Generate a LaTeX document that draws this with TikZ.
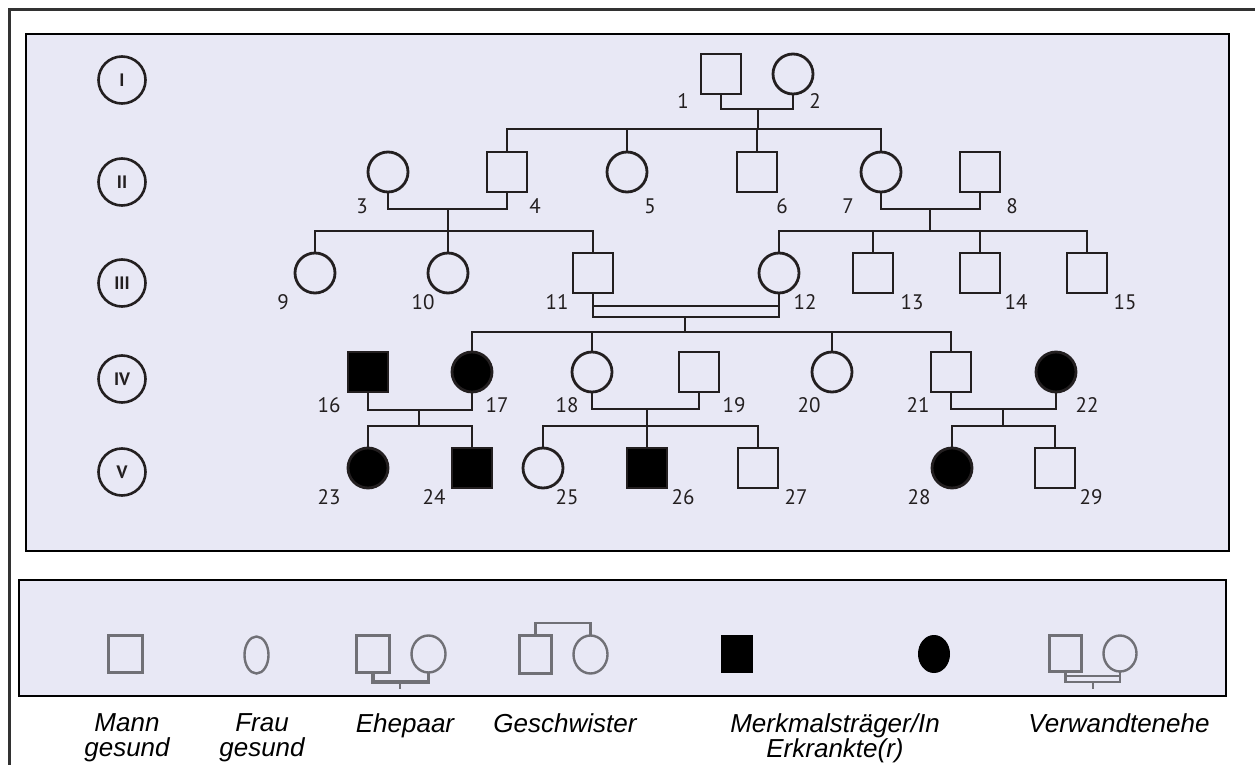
\documentclass[tikz,border=0pt]{standalone}
\usepackage{fontspec}
\setmainfont{Liberation Sans}
\newfontfamily\numfont{PT Sans}
\usetikzlibrary{shapes.geometric}
\definecolor{boxfill}{RGB}{232,232,245}
\definecolor{ink}{RGB}{35,31,32}
\definecolor{frame}{RGB}{50,50,50}
\definecolor{leggray}{RGB}{112,112,118}
\begin{document}
\begin{tikzpicture}[x=1pt,y=-1pt,
  ped/.style={draw=ink, line width=2.8pt},
  msq/.style={rectangle, draw=ink, line width=2.8pt, minimum size=40pt, inner sep=0pt, outer sep=0pt, fill=boxfill},
  fci/.style={circle, draw=ink, line width=2.8pt, minimum size=40pt, inner sep=0pt, outer sep=0pt, fill=boxfill},
  aff/.style={fill=black},
  num/.style={font=\numfont\fontsize{21}{21}\selectfont, text=ink, inner sep=0pt},
  gen/.style={circle, draw=ink, line width=2.6pt, minimum size=47pt, inner sep=0pt, text=ink, font=\numfont\bfseries\fontsize{18}{18}\selectfont},
  leg/.style={draw=leggray, line width=2.6pt},
  lsq/.style={rectangle, draw=leggray, line width=2.6pt, inner sep=0pt, outer sep=0pt},
  lci/.style={ellipse, draw=leggray, line width=2.4pt, inner sep=0pt, outer sep=0pt},
  legtxt/.style={font=\itshape\fontsize{26}{25}\selectfont, align=center, anchor=north, inner sep=0pt, text=black}
]
\useasboundingbox (0,0) rectangle (1255,765);
\clip (0,0) rectangle (1255,765);
\fill[white] (0,0) rectangle (1255,765);
% frames
\draw[draw=frame, line width=3pt] (9,780) -- (9,10) -- (1270,10);
\draw[fill=boxfill, draw=black, line width=2.4pt] (26,34) rectangle (1229,551);
\draw[fill=boxfill, draw=black, line width=2.4pt] (19,580) rectangle (1226,696);

% generation labels
\node[gen] (gI) at (122,80) {I};
\node[gen] (gII) at (122,182) {II};
\node[gen] (gIII) at (122,283) {III};
\node[gen] (gIV) at (122,379) {IV};
\node[gen] (gV) at (122,472) {V};

% generation I
\node[msq] (p1) at (721,74) {};
\node[fci] (p2) at (793,74) {};
% generation II
\node[fci] (p3) at (388,172) {};
\node[msq] (p4) at (507,172) {};
\node[fci] (p5) at (627,172) {};
\node[msq] (p6) at (757,172) {};
\node[fci] (p7) at (881,172) {};
\node[msq] (p8) at (980,172) {};
% generation III
\node[fci] (p9) at (315,273) {};
\node[fci] (p10) at (448,273) {};
\node[msq] (p11) at (593,273) {};
\node[fci] (p12) at (779,273) {};
\node[msq] (p13) at (873,273) {};
\node[msq] (p14) at (980,273) {};
\node[msq] (p15) at (1087,273) {};
% generation IV
\node[msq,aff] (p16) at (368,372) {};
\node[fci,aff] (p17) at (472,372) {};
\node[fci] (p18) at (592,372) {};
\node[msq] (p19) at (699,372) {};
\node[fci] (p20) at (832,372) {};
\node[msq] (p21) at (951,372) {};
\node[fci,aff] (p22) at (1056,372) {};
% generation V
\node[fci,aff] (p23) at (368,468) {};
\node[msq,aff] (p24) at (472,468) {};
\node[fci] (p25) at (543,468) {};
\node[msq,aff] (p26) at (647,468) {};
\node[msq] (p27) at (758,468) {};
\node[fci,aff] (p28) at (952,468) {};
\node[msq] (p29) at (1055,468) {};

% connectors I -> II
\coordinate (m12) at (758,109);
\coordinate (s2) at (758,129);
\draw[ped] (p1.south) |- (m12) -| (p2.south);
\draw[ped] (m12) -- (s2);
\draw[ped] (p4.north) |- (s2) -| (p7.north);
\draw[ped] (p5.north) -- (p5.north |- s2);
\draw[ped] (p6.north) -- (p6.north |- s2);
% II -> III
\coordinate (m34) at (448,209);
\coordinate (s3a) at (448,231);
\draw[ped] (p3.south) |- (m34) -| (p4.south);
\draw[ped] (m34) -- (s3a);
\draw[ped] (p9.north) |- (s3a) -| (p11.north);
\draw[ped] (p10.north) -- (p10.north |- s3a);
\coordinate (m78) at (930,209);
\coordinate (s3b) at (930,231);
\draw[ped] (p7.south) |- (m78) -| (p8.south);
\draw[ped] (m78) -- (s3b);
\draw[ped] (p12.north) |- (s3b) -| (p15.north);
\draw[ped] (p13.north) -- (p13.north |- s3b);
\draw[ped] (p14.north) -- (p14.north |- s3b);
% III -> IV (consanguineous)
\coordinate (m1112) at (685,317);
\coordinate (m1112i) at (685,306);
\coordinate (s4) at (685,332);
\draw[ped] (p11.south) |- (m1112) -| (p12.south);
\draw[ped] (p11.south |- m1112i) -- (p12.south |- m1112i);
\draw[ped] (m1112) -- (s4);
\draw[ped] (p17.north) |- (s4) -| (p21.north);
\draw[ped] (p18.north) -- (p18.north |- s4);
\draw[ped] (p20.north) -- (p20.north |- s4);
% IV -> V
\coordinate (m1617) at (419,410);
\coordinate (s5a) at (419,426);
\draw[ped] (p16.south) |- (m1617) -| (p17.south);
\draw[ped] (m1617) -- (s5a);
\draw[ped] (p23.north) |- (s5a) -| (p24.north);
\coordinate (m1819) at (647,409);
\coordinate (s5b) at (647,426);
\draw[ped] (p18.south) |- (m1819) -| (p19.south);
\draw[ped] (m1819) -- (p26.north);
\draw[ped] (p25.north) |- (s5b) -| (p27.north);
\coordinate (m2122) at (1003,409);
\coordinate (s5c) at (1003,426);
\draw[ped] (p21.south) |- (m2122) -| (p22.south);
\draw[ped] (m2122) -- (s5c);
\draw[ped] (p28.north) |- (s5c) -| (p29.north);

% numbers
\node[num] (l1) at (683,101) {1};
\node[num] (l2) at (815,101) {2};
\node[num] (l3) at (362,206) {3};
\node[num] (l4) at (535,206) {4};
\node[num] (l5) at (650,206) {5};
\node[num] (l6) at (782,206) {6};
\node[num] (l7) at (848,206) {7};
\node[num] (l8) at (1012,206) {8};
\node[num] (l9) at (283,302) {9};
\node[num] (l10) at (423,302) {10};
\node[num] (l11) at (557,302) {11};
\node[num] (l12) at (805,302) {12};
\node[num] (l13) at (912,302) {13};
\node[num] (l14) at (1016,302) {14};
\node[num] (l15) at (1125,302) {15};
\node[num] (l16) at (329,405) {16};
\node[num] (l17) at (497,405) {17};
\node[num] (l18) at (567,405) {18};
\node[num] (l19) at (734,405) {19};
\node[num] (l20) at (809,405) {20};
\node[num] (l21) at (918,405) {21};
\node[num] (l22) at (1087,405) {22};
\node[num] (l23) at (329,497) {23};
\node[num] (l24) at (434,497) {24};
\node[num] (l25) at (567,497) {25};
\node[num] (l26) at (683,497) {26};
\node[num] (l27) at (796,497) {27};
\node[num] (l28) at (919,497) {28};
\node[num] (l29) at (1091,497) {29};

% legend symbols
\node[lsq, minimum width=34pt, minimum height=37pt] (lm) at (125.5,654) {};
\node[lci, minimum width=24pt, minimum height=37pt] (lf) at (256.5,655) {};
\node[lsq, minimum width=33pt, minimum height=37pt] (le1) at (373,654) {};
\node[lci, minimum width=34pt, minimum height=37pt] (le2) at (428.5,654) {};
\coordinate (lem) at (400,682);
\coordinate (lemt) at (400,689);
\draw[leg, line width=3.2pt] (le1.south) |- (lem) -| (le2.south);
\draw[leg, line width=1.8pt] (lem) -- (lemt);
\node[lsq, minimum width=32pt, minimum height=38pt] (lg1) at (535.5,654.5) {};
\node[lci, minimum width=34pt, minimum height=38pt] (lg2) at (590.5,654.5) {};
\coordinate (lgt) at (563,623);
\draw[leg] (lg1.north) |- (lgt) -| (lg2.north);
\node[rectangle, fill=black, draw=black, line width=1pt, minimum width=31pt, minimum height=37pt, inner sep=0pt] (la1) at (737,654) {};
\node[ellipse, fill=black, draw=black, line width=1pt, minimum width=31pt, minimum height=37pt, inner sep=0pt] (la2) at (934,654) {};
\node[lsq, minimum width=32pt, minimum height=36pt] (lv1) at (1065.5,653.5) {};
\node[lci, minimum width=33pt, minimum height=36pt] (lv2) at (1120,653.5) {};
\coordinate (lvm) at (1093,682);
\coordinate (lvi) at (1093,676);
\coordinate (lvt) at (1093,689);
\draw[leg] (lv1.south) |- (lvm) -| (lv2.south);
\draw[leg] (lv1.south |- lvi) -- (lv2.south |- lvi);
\draw[leg, line width=1.8pt] (lvm) -- (lvt);

% legend texts
\node[legtxt] (tm) at (127,713) {Mann\\gesund};
\node[legtxt] (tf) at (262,713) {Frau\\gesund};
\node[legtxt] (te) at (405,713) {Ehepaar};
\node[legtxt] (tg) at (565,713) {Geschwister};
\node[legtxt] (ta) at (835,713) {Merkmalsträger/In\\Erkrankte(r)};
\node[legtxt] (tv) at (1119,713) {Verwandtenehe};
\end{tikzpicture}
\end{document}
